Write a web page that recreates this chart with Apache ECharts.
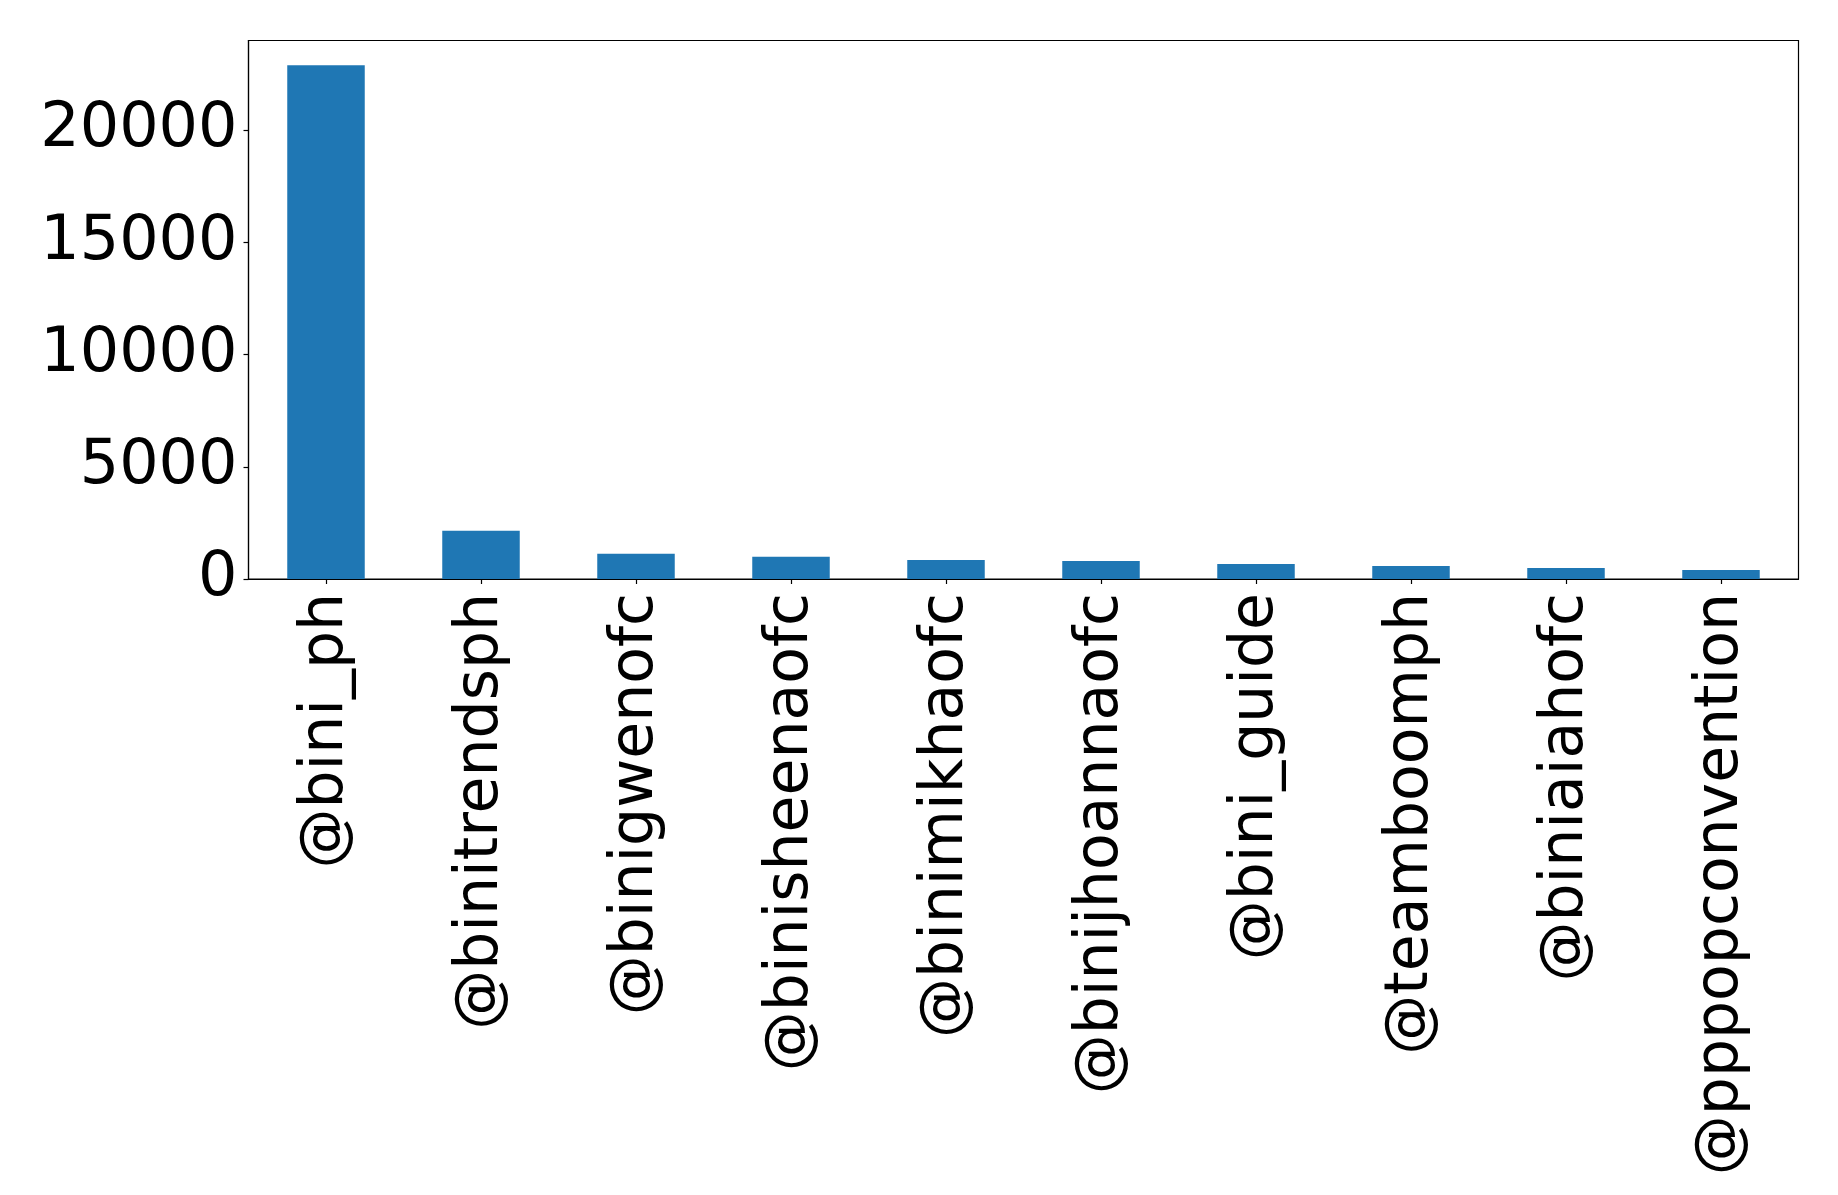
<!DOCTYPE html>
<html>
<head>
<meta charset="utf-8">
<script src="https://cdn.jsdelivr.net/npm/echarts@6/dist/echarts.min.js"></script>
<style>
html,body{margin:0;padding:0;background:#fff;}
#chart{width:1838px;height:1195px;}
</style>
</head>
<body>
<div id="chart"></div>
<script>
const categories = ['@bini_ph','@binitrendsph','@binigwenofc','@binisheenaofc','@binimikhaofc','@binijhoannaofc','@bini_guide','@teamboomph','@biniaiahofc','@pppopconvention'];
const values = [22900, 2155, 1130, 995, 848, 804, 670, 580, 490, 402];
const yTicks = [0, 5000, 10000, 15000, 20000];

const chart = echarts.init(document.getElementById('chart'), null, {renderer: 'canvas'});
const font = "'DejaVu Sans', sans-serif";
chart.setOption({
  animation: false,
  backgroundColor: '#ffffff',
  grid: {
    left: 248.5, right: 39.5, top: 40.5, bottom: 616,
    show: true, borderColor: '#000', borderWidth: 1.2, backgroundColor: 'transparent'
  },
  xAxis: {
    type: 'category',
    data: categories,
    boundaryGap: true,
    axisLine: {show: true, lineStyle: {color: '#000', width: 1.2}},
    axisTick: {show: true, alignWithLabel: true, length: 5, lineStyle: {color: '#000', width: 1.2}},
    axisLabel: {
      rotate: 90, interval: 0, margin: 14,
      fontFamily: font, fontSize: 60, color: '#000'
    },
    splitLine: {show: false}
  },
  yAxis: {
    type: 'value',
    min: 0, max: 24000, interval: 5000,
    axisLine: {show: true, lineStyle: {color: '#000', width: 1.2}},
    axisTick: {show: true, length: 5, customValues: yTicks, lineStyle: {color: '#000', width: 1.2}},
    axisLabel: {
      customValues: yTicks, margin: 11,
      formatter: function (v) { return String(v); },
      fontFamily: font, fontSize: 62, color: '#000'
    },
    splitLine: {show: false}
  },
  series: [{
    type: 'bar',
    data: values,
    barWidth: '50%',
    itemStyle: {color: '#1f77b4'}
  }]
});
</script>
</body>
</html>
